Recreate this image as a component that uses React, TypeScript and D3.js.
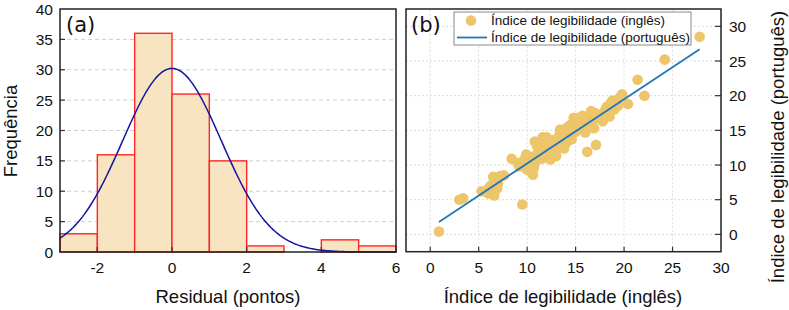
import * as d3 from 'd3'

// histogram of residuals (left panel)
const BIN_START = [-3, -2, -1, 0, 1, 2, 3, 4, 5]
const BIN_COUNT = [3, 16, 36, 26, 15, 1, 0, 2, 1]
const BIN_WIDTH = 1
// fitted normal curve
const FIT_MEAN = 0
const FIT_SD = 1.32
const FIT_TOTAL = 100

const A_X_TICKS = [-2, 0, 2, 4, 6]
const A_Y_TICKS = [0, 5, 10, 15, 20, 25, 30, 35, 40]

// readability index, english vs portuguese (right panel)
const ENGLISH = [
  0.9, 3.0, 3.4, 5.3, 5.8, 6.0, 6.3, 6.5, 6.6, 6.5, 6.8, 7.0, 6.9, 7.6, 7.2, 8.4, 9.0, 9.5, 9.4, 9.7,
  9.9, 10.1, 10.0, 10.3, 10.6, 10.7, 10.5, 10.9, 10.8, 11.1, 11.3, 11.5, 11.6, 11.8, 11.9, 12.1, 12.3, 12.4, 12.6, 12.8,
  13.0, 13.1, 13.3, 13.4, 13.6, 13.8, 13.9, 14.1, 14.2, 14.4, 14.5, 14.7, 14.8, 14.9, 15.1, 15.3, 15.4, 15.6, 15.8, 16.0,
  16.2, 16.4, 16.6, 16.7, 16.9, 17.1, 17.2, 17.5, 17.8, 18.0, 18.2, 18.4, 18.6, 18.8, 19.0, 19.2, 19.4, 19.6, 19.8, 20.4,
  21.4, 22.1, 24.2, 27.8, 11.0, 12.0, 13.0, 14.0, 15.0, 10.4, 12.5, 9.2, 16.5, 17.0, 18.5, 6.1, 11.8, 14.6, 15.7, 13.5,
]
const PORTUGUESE = [
  0.4, 5.0, 5.2, 6.2, 6.3, 5.9, 7.1, 6.4, 5.6, 8.3, 8.0, 7.3, 6.6, 8.5, 8.4, 10.9, 10.3, 4.3, 10.0, 10.8,
  11.5, 10.2, 9.3, 9.8, 8.6, 9.6, 11.2, 10.5, 13.4, 11.8, 12.3, 10.9, 14.0, 12.6, 11.4, 13.2, 12.0, 10.8, 13.6, 12.4,
  11.3, 13.0, 14.2, 15.1, 13.4, 12.4, 14.6, 13.3, 15.5, 14.0, 15.8, 14.6, 16.8, 15.3, 16.1, 16.8, 15.4, 16.3, 15.9, 14.7,
  11.9, 16.6, 17.8, 16.2, 15.3, 12.9, 16.8, 17.2, 16.3, 17.8, 18.4, 17.4, 18.9, 19.3, 18.0, 19.0, 18.6, 19.8, 20.2, 18.8,
  22.3, 20.0, 25.2, 28.5, 12.8, 14.0, 12.2, 15.2, 14.8, 10.8, 11.5, 9.8, 15.5, 17.5, 17.0, 6.8, 13.6, 13.7, 17.1, 12.8,
]
// regression line end points
const LINE_X = [0.9, 27.8]
const LINE_Y = [1.8, 26.7]

const B_X_TICKS = [0, 5, 10, 15, 20, 25, 30]
const B_Y_TICKS = [0, 5, 10, 15, 20, 25, 30]

const FONT = '"Liberation Sans", Arial, sans-serif'

export default function App() {
  const W = 789
  const H = 310

  // panel (a)
  const xA = d3.scaleLinear().domain([-3, 6]).range([60, 396])
  const yA = d3.scaleLinear().domain([0, 40]).range([252, 9])
  const norm = (x: number) =>
    (FIT_TOTAL * BIN_WIDTH) / (FIT_SD * Math.sqrt(2 * Math.PI)) *
    Math.exp(-((x - FIT_MEAN) ** 2) / (2 * FIT_SD * FIT_SD))
  const curve = d3.line<number>().x(d => xA(d)).y(d => yA(norm(d)))(d3.range(-3, 6.001, 0.05))

  // panel (b)
  const xB = d3.scaleLinear().domain([-2.5, 30]).range([406, 721])
  const yB = d3.scaleLinear().domain([-2.5, 32.5]).range([251.7, 9])
  const fitLine = d3.line<number>().x(d => xB(d)).y((d, i) => yB(LINE_Y[i]))(LINE_X)

  const [ax0, ax1] = xA.range()
  const [ay0, ay1] = yA.range()
  const [bx0, bx1] = xB.range()
  const [by0, by1] = yB.range()

  return (
    <svg width={W} height={H} style={{ position: 'absolute', left: 0, top: 0, background: '#fff' }}
      fontFamily={FONT}>
      {/* ---------- (a) ---------- */}
      <g>
        {A_Y_TICKS.filter(t => t > 0 && t < 40).map(t => (
          <line key={t} x1={ax0} x2={ax1} y1={yA(t)} y2={yA(t)} stroke="#cfcfcf" strokeDasharray="4,3" />
        ))}
        {BIN_START.map((b, i) => BIN_COUNT[i] > 0 && (
          <rect key={b} x={xA(b)} y={yA(BIN_COUNT[i])} width={xA(b + BIN_WIDTH) - xA(b)}
            height={yA(0) - yA(BIN_COUNT[i])} fill="#f8e4c1" stroke="#ff2626" strokeWidth={1.4} />
        ))}
        <path d={curve || ''} fill="none" stroke="#1414a0" strokeWidth={1.5} />
        {A_X_TICKS.filter(t => t < 6).map(t => (
          <line key={t} x1={xA(t)} x2={xA(t)} y1={ay0} y2={ay0 - 5} stroke="#333" strokeWidth={1.2} />
        ))}
        {A_Y_TICKS.filter(t => t > 0 && t < 40).map(t => (
          <line key={t} x1={ax0} x2={ax0 + 5} y1={yA(t)} y2={yA(t)} stroke="#333" strokeWidth={1.2} />
        ))}
        <rect x={ax0} y={ay1} width={ax1 - ax0} height={ay0 - ay1} fill="none" stroke="#222" strokeWidth={1.5} />
        {A_Y_TICKS.map(t => (
          <text key={t} x={53} y={yA(t)} dy="0.36em" textAnchor="end" fontSize={15.5} fill="#111">{t}</text>
        ))}
        {A_X_TICKS.map(t => (
          <text key={t} x={xA(t)} y={267} dy="0.36em" textAnchor="middle" fontSize={15.5} fill="#111">{t}</text>
        ))}
        <text x={(ax0 + ax1) / 2} y={296} dy="0.36em" textAnchor="middle" fontSize={18.5} fill="#111">Residual (pontos)</text>
        <text transform={`translate(10,131) rotate(-90)`} dy="0.36em" textAnchor="middle" fontSize={18.5} fill="#111">Frequência</text>
        <text x={66} y={32} fontSize={21} fill="#111" fontFamily='"DejaVu Sans", sans-serif'>(a)</text>
      </g>

      {/* ---------- (b) ---------- */}
      <g>
        {B_X_TICKS.filter(t => t < 30).map(t => (
          <line key={t} x1={xB(t)} x2={xB(t)} y1={by0} y2={by1} stroke="#dcdcdc" strokeDasharray="2,2" />
        ))}
        {B_Y_TICKS.map(t => (
          <line key={t} x1={bx0} x2={bx1} y1={yB(t)} y2={yB(t)} stroke="#dcdcdc" strokeDasharray="2,2" />
        ))}
        {ENGLISH.map((e, i) => (
          <circle key={i} cx={xB(e)} cy={yB(PORTUGUESE[i])} r={5.3} fill="#edc56a" />
        ))}
        <path d={fitLine || ''} fill="none" stroke="#1f78b8" strokeWidth={1.8} />
        {B_X_TICKS.filter(t => t < 30).map(t => (
          <line key={t} x1={xB(t)} x2={xB(t)} y1={by0} y2={by0 - 5} stroke="#333" strokeWidth={1.2} />
        ))}
        {B_Y_TICKS.map(t => (
          <line key={t} x1={bx1} x2={bx1 - 6} y1={yB(t)} y2={yB(t)} stroke="#333" strokeWidth={1.2} />
        ))}
        <rect x={bx0} y={by1} width={bx1 - bx0} height={by0 - by1} fill="none" stroke="#222" strokeWidth={1.5} />

        {/* legend */}
        <rect x={454} y={12} width={237} height={33} fill="#fff" stroke="#8a8a8a" strokeWidth={1} />
        <circle cx={471} cy={20.5} r={5.3} fill="#edc56a" />
        <line x1={457} x2={487} y1={37.5} y2={37.5} stroke="#1f78b8" strokeWidth={1.8} />
        <text x={491} y={20.5} dy="0.36em" fontSize={13.5} fill="#111">Índice de legibilidade (inglês)</text>
        <text x={491} y={37.5} dy="0.36em" fontSize={13.5} fill="#111">Índice de legibilidade (português)</text>

        {B_X_TICKS.map(t => (
          <text key={t} x={xB(t)} y={267} dy="0.36em" textAnchor="middle" fontSize={15.5} fill="#111">{t}</text>
        ))}
        {B_Y_TICKS.map(t => (
          <text key={t} x={729} y={yB(t)} dy="0.36em" textAnchor="start" fontSize={15.5} fill="#111">{t}</text>
        ))}
        <text x={563} y={296} dy="0.36em" textAnchor="middle" fontSize={18.5} fill="#111">Índice de legibilidade (inglês)</text>
        <text transform={`translate(777,147) rotate(-90)`} dy="0.36em" textAnchor="middle" fontSize={18.5} fill="#111">Índice de legibilidade (português)</text>
        <text x={411} y={32} fontSize={21} fill="#111" fontFamily='"DejaVu Sans", sans-serif'>(b)</text>
      </g>
    </svg>
  )
}
